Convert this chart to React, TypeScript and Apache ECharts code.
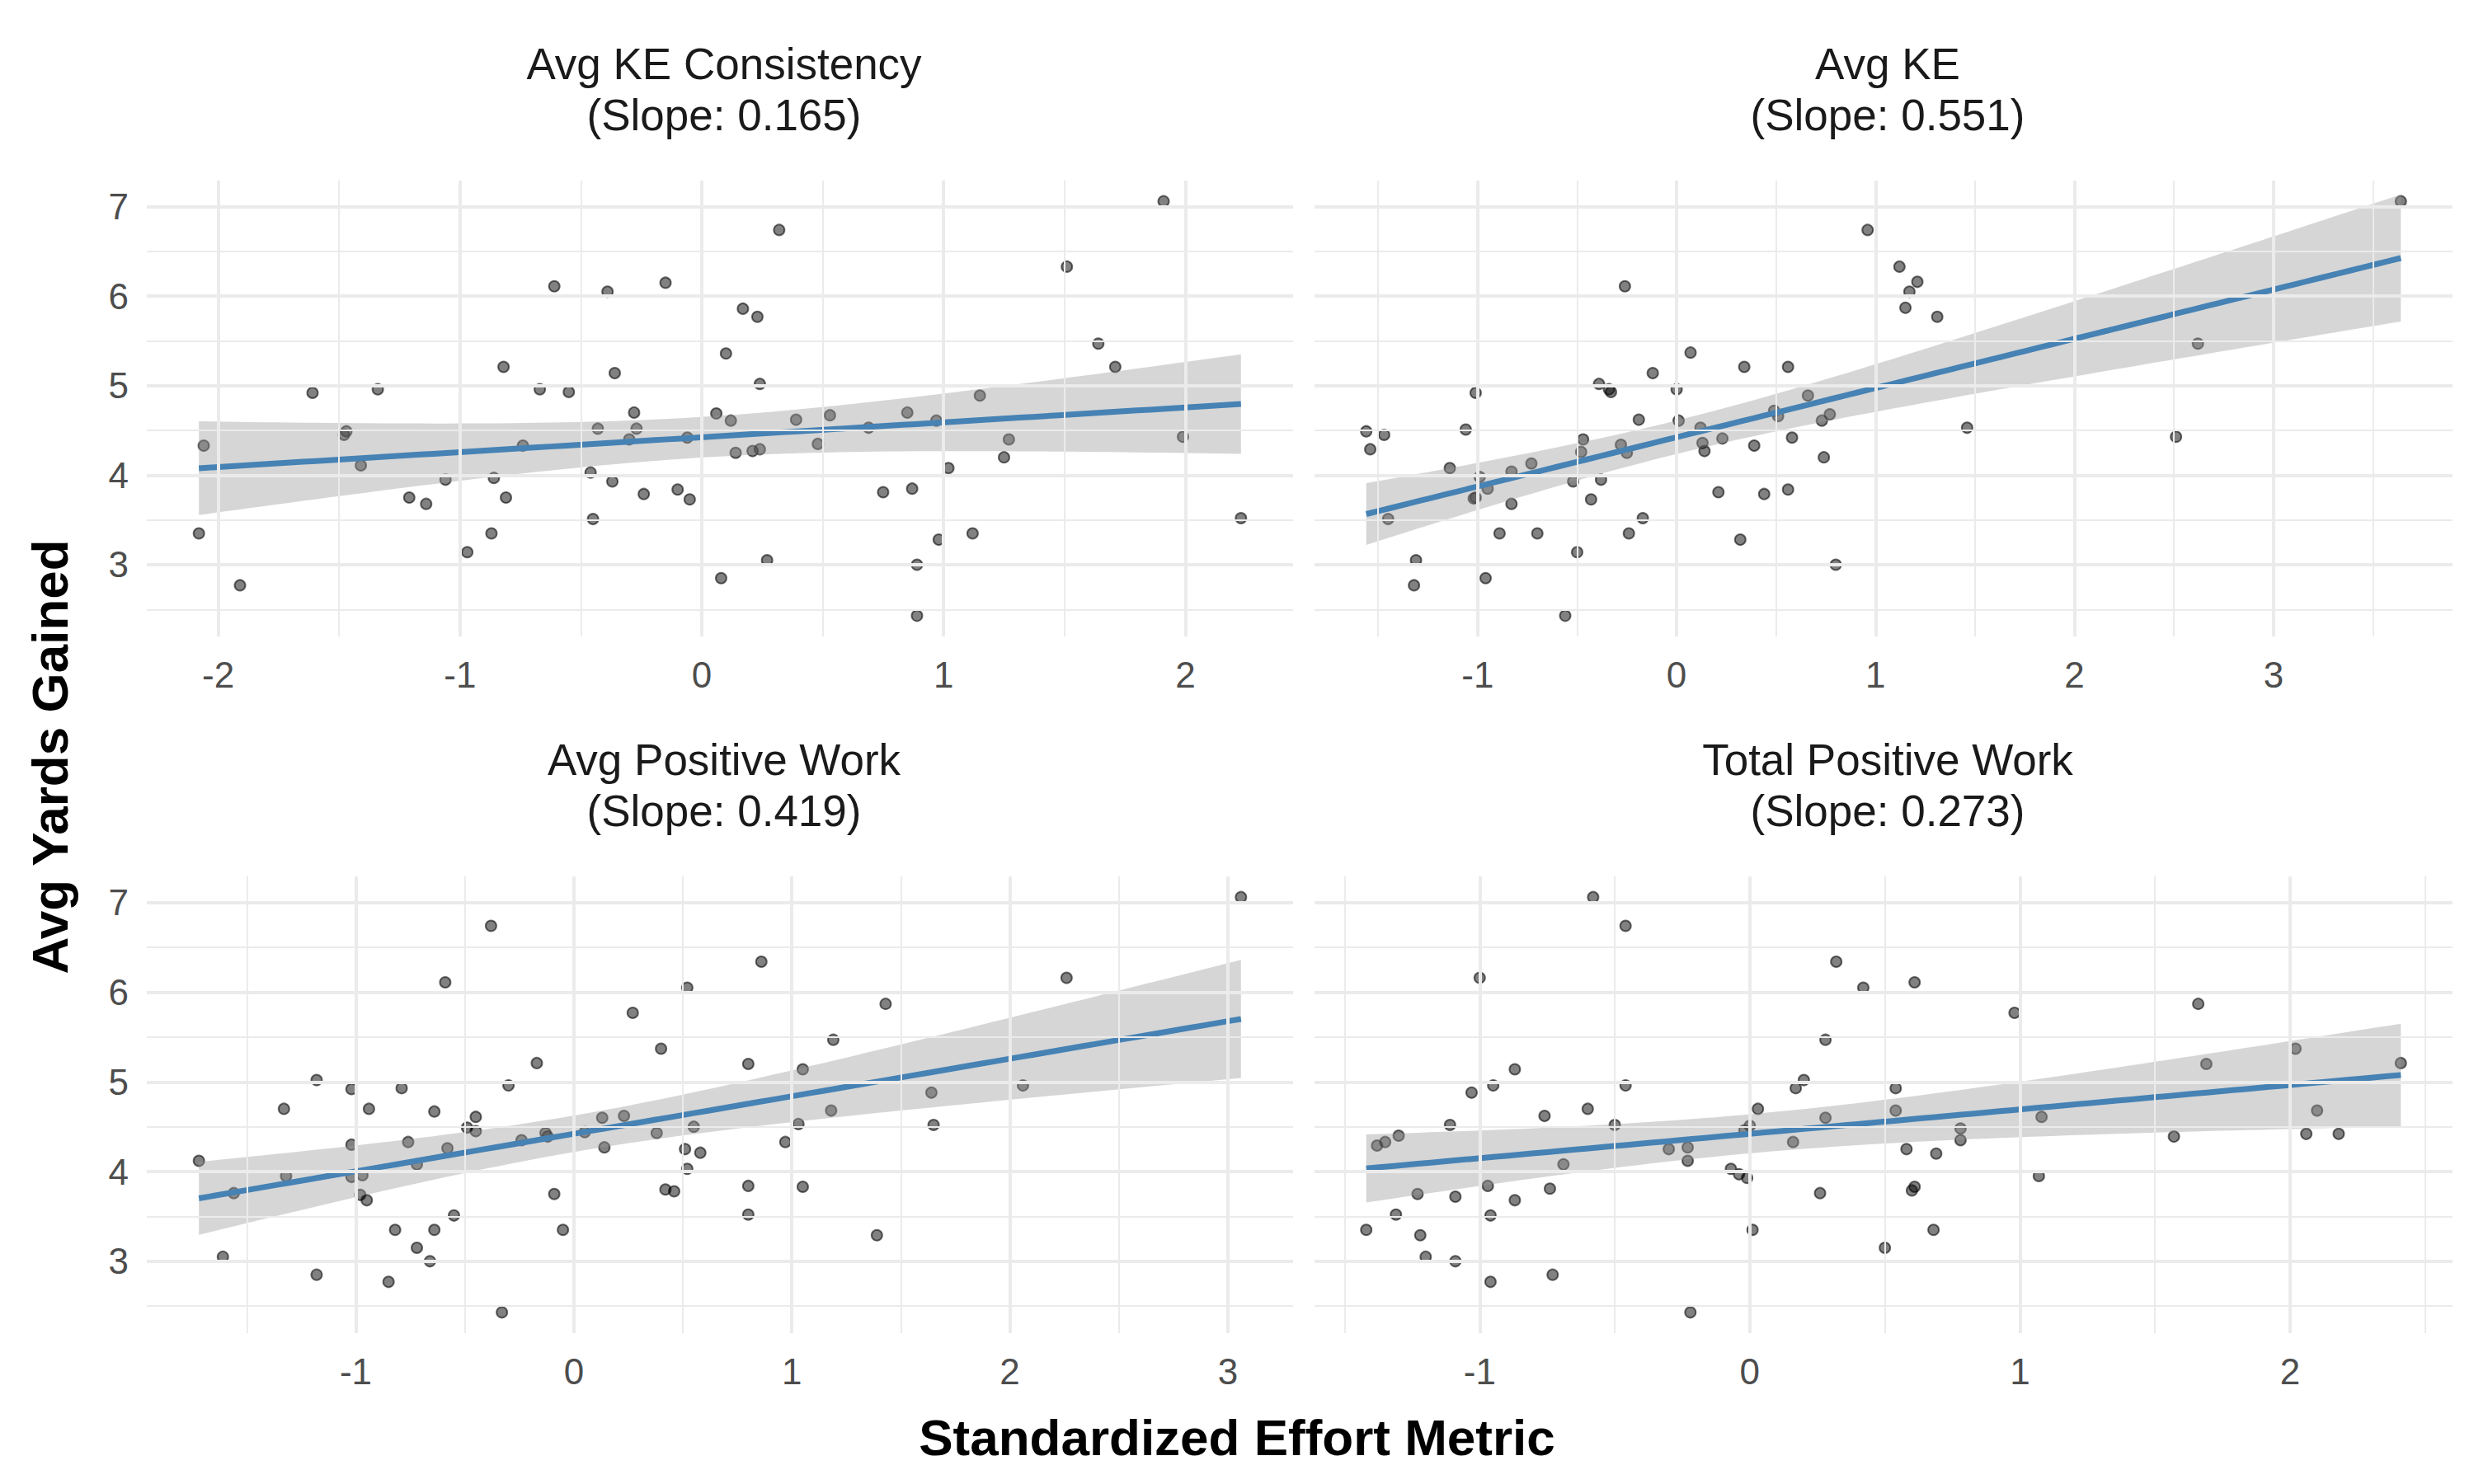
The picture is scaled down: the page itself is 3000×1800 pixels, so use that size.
import { useEffect, useRef } from 'react';
import * as echarts from 'echarts';

const panelTitles = [
  'Avg KE Consistency\n(Slope: 0.165)',
  'Avg KE\n(Slope: 0.551)',
  'Avg Positive Work\n(Slope: 0.419)',
  'Total Positive Work\n(Slope: 0.273)',
];

const keConsistency: [number, number][] = [
  [1.91, 7.06], [0.32, 6.74], [1.51, 6.33], [-0.61, 6.11], [-0.39, 6.05], [-0.15, 6.15], [0.17, 5.86],
  [0.23, 5.77], [1.64, 5.47], [0.10, 5.36], [-0.82, 5.21], [1.71, 5.21], [-0.36, 5.14], [0.24, 5.02],
  [-1.61, 4.92], [-1.34, 4.96], [-0.67, 4.96], [-0.55, 4.93], [1.15, 4.89], [-0.28, 4.70], [0.06, 4.69],
  [0.85, 4.70], [0.12, 4.61], [0.39, 4.62], [0.53, 4.67], [0.97, 4.61], [-0.43, 4.52], [-0.27, 4.52],
  [0.69, 4.53], [-1.48, 4.45], [-1.47, 4.49], [-0.30, 4.40], [-0.06, 4.42], [1.99, 4.43], [1.27, 4.40],
  [-2.06, 4.33], [-0.74, 4.33], [0.48, 4.35], [0.14, 4.25], [0.21, 4.27], [0.24, 4.29], [1.25, 4.20],
  [-1.41, 4.11], [1.02, 4.08], [-0.46, 4.03], [-1.06, 3.95], [-0.86, 3.97], [-0.37, 3.93], [-0.10, 3.84],
  [0.87, 3.85], [0.75, 3.81], [-0.24, 3.79], [-1.21, 3.75], [-0.81, 3.75], [-0.05, 3.73], [-1.14, 3.68],
  [-0.45, 3.51], [2.23, 3.52], [-2.08, 3.35], [-0.87, 3.35], [1.12, 3.35], [0.98, 3.28], [-0.97, 3.14],
  [0.27, 3.05], [0.89, 3.00], [0.08, 2.85], [-1.91, 2.77], [0.89, 2.43],
];

const avgKE: [number, number][] = [
  [3.64, 7.06], [0.96, 6.74], [1.12, 6.33], [1.21, 6.16], [1.17, 6.05], [1.15, 5.87], [1.31, 5.77],
  [-0.26, 6.11], [2.62, 5.47], [0.07, 5.37], [0.34, 5.21], [0.56, 5.21], [-0.12, 5.14], [-0.39, 5.02],
  [-0.34, 4.96], [-0.33, 4.93], [0.00, 4.96], [-1.01, 4.92], [0.66, 4.89], [-0.19, 4.62], [0.01, 4.61],
  [0.49, 4.72], [0.51, 4.66], [0.77, 4.68], [0.73, 4.61], [0.12, 4.53], [1.46, 4.53], [-1.56, 4.49],
  [-1.47, 4.45], [-1.06, 4.51], [-1.54, 4.29], [-0.47, 4.40], [0.23, 4.41], [0.58, 4.42], [2.51, 4.43],
  [-0.28, 4.34], [0.13, 4.36], [0.39, 4.33], [-0.48, 4.26], [-0.25, 4.25], [0.14, 4.27], [0.74, 4.20],
  [-1.14, 4.08], [-0.73, 4.13], [-0.83, 4.04], [-0.99, 3.98], [-0.95, 3.85], [-0.52, 3.93], [-0.38, 3.95],
  [-1.01, 3.75], [-1.02, 3.74], [-0.83, 3.68], [-0.43, 3.73], [0.21, 3.81], [0.44, 3.79], [0.56, 3.84],
  [-1.45, 3.51], [-0.17, 3.52], [-0.89, 3.35], [-0.70, 3.35], [-0.24, 3.35], [0.32, 3.28], [-0.50, 3.14],
  [-1.31, 3.05], [0.80, 3.00], [-0.96, 2.85], [-1.32, 2.77], [-0.56, 2.43],
];

const avgPositiveWork: [number, number][] = [
  [3.06, 7.06], [-0.38, 6.74], [0.86, 6.34], [-0.59, 6.11], [0.52, 6.05], [2.26, 6.16], [0.27, 5.77],
  [1.43, 5.87], [1.19, 5.47], [0.40, 5.37], [-0.17, 5.21], [0.80, 5.20], [1.05, 5.14], [-1.18, 5.02],
  [-1.02, 4.92], [-0.79, 4.93], [-0.30, 4.96], [2.06, 4.96], [1.64, 4.88], [-1.33, 4.70], [-0.94, 4.70],
  [-0.64, 4.67], [1.18, 4.68], [-0.45, 4.61], [0.13, 4.60], [0.23, 4.62], [-0.49, 4.49], [-0.45, 4.45],
  [0.55, 4.50], [1.03, 4.53], [1.65, 4.52], [0.05, 4.44], [-0.13, 4.43], [-0.12, 4.39], [0.38, 4.43],
  [-0.24, 4.35], [-0.76, 4.33], [-1.02, 4.30], [0.97, 4.33], [-0.58, 4.26], [0.14, 4.27], [0.51, 4.25],
  [0.58, 4.21], [-1.72, 4.12], [-0.72, 4.08], [0.52, 4.03], [-1.32, 3.95], [-1.02, 3.94], [-0.97, 3.96],
  [-1.56, 3.76], [-0.98, 3.74], [-0.95, 3.68], [-0.09, 3.75], [0.42, 3.80], [0.46, 3.78], [0.80, 3.84],
  [1.05, 3.83], [-0.55, 3.51], [0.80, 3.52], [-0.82, 3.35], [-0.64, 3.35], [-0.05, 3.35], [1.39, 3.29],
  [-0.72, 3.15], [-1.61, 3.05], [-0.66, 3.00], [-1.18, 2.85], [-0.85, 2.77], [-0.33, 2.43],
];

const totalPositiveWork: [number, number][] = [
  [-0.58, 7.06], [-0.46, 6.74], [0.32, 6.34], [-1.00, 6.16], [0.42, 6.05], [0.61, 6.11], [0.98, 5.77],
  [1.66, 5.87], [0.28, 5.47], [2.02, 5.37], [1.69, 5.20], [2.41, 5.21], [-0.87, 5.14], [-0.95, 4.96],
  [-1.03, 4.88], [-0.46, 4.96], [0.20, 5.02], [0.17, 4.93], [0.54, 4.93], [-0.60, 4.70], [0.03, 4.70],
  [-0.76, 4.62], [0.28, 4.60], [0.54, 4.68], [2.10, 4.68], [1.08, 4.61], [-1.11, 4.52], [-0.50, 4.52],
  [0.00, 4.51], [-0.02, 4.46], [0.78, 4.48], [0.78, 4.35], [-1.30, 4.40], [-1.35, 4.33], [-1.38, 4.29],
  [1.57, 4.39], [2.06, 4.42], [2.18, 4.42], [0.16, 4.33], [-0.30, 4.25], [-0.23, 4.27], [0.58, 4.25],
  [0.69, 4.20], [-0.69, 4.08], [-0.23, 4.12], [-0.07, 4.03], [-0.04, 3.97], [-0.01, 3.93], [1.07, 3.95],
  [-0.97, 3.84], [-0.74, 3.81], [0.61, 3.83], [0.60, 3.79], [-1.23, 3.75], [-1.09, 3.72], [-0.87, 3.68],
  [0.26, 3.76], [-1.31, 3.52], [-0.96, 3.51], [-1.42, 3.35], [-1.22, 3.29], [0.01, 3.35], [0.68, 3.35],
  [0.50, 3.15], [-1.20, 3.05], [-1.09, 3.00], [-0.96, 2.77], [-0.73, 2.85], [-0.22, 2.43],
];

const panelData = [keConsistency, avgKE, avgPositiveWork, totalPositiveWork];

const xMajor = [
  [-2, -1, 0, 1, 2],
  [-1, 0, 1, 2, 3],
  [-1, 0, 1, 2, 3],
  [-1, 0, 1, 2],
];
const xMinor = [
  [-1.5, -0.5, 0.5, 1.5],
  [-1.5, -0.5, 0.5, 1.5, 2.5, 3.5],
  [-1.5, -0.5, 0.5, 1.5, 2.5],
  [-1.5, -0.5, 0.5, 1.5, 2.5],
];
const yMajor = [3, 4, 5, 6, 7];
const yMinor = [2.5, 3.5, 4.5, 5.5, 6.5];

const grids = [
  { left: 170, top: 211, width: 1390, height: 553 },
  { left: 1586, top: 211, width: 1380, height: 553 },
  { left: 170, top: 1055, width: 1390, height: 554 },
  { left: 1586, top: 1055, width: 1380, height: 554 },
];

// linear fit with 95% confidence band
function fit(pts: [number, number][]) {
  const n = pts.length;
  const mx = pts.reduce((s, p) => s + p[0], 0) / n;
  const my = pts.reduce((s, p) => s + p[1], 0) / n;
  let sxx = 0, sxy = 0;
  pts.forEach(([x, y]) => { sxx += (x - mx) ** 2; sxy += (x - mx) * (y - my); });
  const b = sxy / sxx;
  const a = my - b * mx;
  let sse = 0;
  pts.forEach(([x, y]) => { sse += (y - a - b * x) ** 2; });
  const s = Math.sqrt(sse / (n - 2));
  const xs = pts.map((p) => p[0]);
  const lo = Math.min(...xs), hi = Math.max(...xs);
  const line: number[][] = [];
  const band: number[][] = [];
  for (let i = 0; i <= 80; i++) {
    const x = lo + ((hi - lo) * i) / 80;
    const yh = a + b * x;
    const se = s * Math.sqrt(1 / n + (x - mx) ** 2 / sxx);
    line.push([x, yh]);
    band.push([x, yh - 1.998 * se, yh + 1.998 * se]);
  }
  return { line, band, lo, hi };
}

const App = () => {
  const ref = useRef<HTMLDivElement>(null);

  useEffect(() => {
    if (!ref.current) return;
    const chart = echarts.init(ref.current, null, { renderer: 'svg' });
    const font = 'Liberation Sans, Arial, sans-serif';

    const xAxis: any[] = [];
    const yAxis: any[] = [];
    const series: any[] = [];
    const title: any[] = [];

    panelData.forEach((pts, i) => {
      const f = fit(pts);
      const span = f.hi - f.lo;
      const g = grids[i];
      title.push({
        text: panelTitles[i],
        left: g.left + g.width / 2,
        top: g.top - 178,
        textAlign: 'center',
        textStyle: { fontFamily: font, fontSize: 53, fontWeight: 'normal', color: '#1a1a1a', lineHeight: 62 },
      });
      xAxis.push({
        type: 'value', gridIndex: i,
        min: f.lo - span * 0.05, max: f.hi + span * 0.05,
        minInterval: 1, maxInterval: 1,
        axisLine: { show: false }, axisTick: { show: false }, splitLine: { show: false },
        axisLabel: { showMinLabel: false, showMaxLabel: false, fontFamily: font, fontSize: 44, color: '#4d4d4d', margin: 24 },
      });
      yAxis.push({
        type: 'value', gridIndex: i,
        min: 2.43 - 0.2315, max: 7.06 + 0.2315,
        minInterval: 1, maxInterval: 1,
        axisLine: { show: false }, axisTick: { show: false }, splitLine: { show: false },
        axisLabel: { show: i % 2 === 0, showMinLabel: false, showMaxLabel: false, fontFamily: font, fontSize: 44, color: '#4d4d4d', margin: 22 },
      });
      const gl = (v: number, dim: 'xAxis' | 'yAxis', w: number) => ({ [dim]: v, lineStyle: { color: '#ebebeb', width: w, type: 'solid' } });
      series.push({
        type: 'scatter', xAxisIndex: i, yAxisIndex: i, data: [], silent: true, z: 0,
        markLine: {
          silent: true, symbol: 'none', label: { show: false }, animation: false,
          data: [
            ...xMinor[i].map((v) => gl(v, 'xAxis', 2)),
            ...yMinor.map((v) => gl(v, 'yAxis', 2)),
            ...xMajor[i].map((v) => gl(v, 'xAxis', 4)),
            ...yMajor.map((v) => gl(v, 'yAxis', 4)),
          ],
        },
      });
      series.push({
        type: 'scatter', xAxisIndex: i, yAxisIndex: i, data: pts, z: 2,
        symbolSize: 13,
        itemStyle: { color: 'rgba(0,0,0,0.62)', borderColor: 'rgba(0,0,0,0.7)', borderWidth: 2 },
      });
      series.push({
        type: 'custom', xAxisIndex: i, yAxisIndex: i, data: [0], z: 3, silent: true,
        renderItem: (_: any, api: any) => {
          const upper = f.band.map((b) => api.coord([b[0], b[2]]));
          const lower = f.band.map((b) => api.coord([b[0], b[1]])).reverse();
          return { type: 'polygon', shape: { points: [...upper, ...lower] }, style: { fill: 'rgba(153,153,153,0.4)' } };
        },
      });
      series.push({
        type: 'line', xAxisIndex: i, yAxisIndex: i, data: f.line, z: 4, showSymbol: false, silent: true,
        lineStyle: { color: '#4682B4', width: 7 },
      });
    });

    chart.setOption({
      animation: false,
      backgroundColor: '#ffffff',
      title,
      grid: grids,
      xAxis,
      yAxis,
      series,
      graphic: [
        {
          type: 'text', left: 'center', top: 1704,
          style: { text: 'Standardized Effort Metric', font: `bold 62px ${font}`, fill: '#000' },
        },
        {
          type: 'text', x: 52, y: 910, rotation: Math.PI / 2,
          style: { text: 'Avg Yards Gained', font: `bold 62px ${font}`, fill: '#000', align: 'center', verticalAlign: 'middle' },
        },
      ],
    });
    return () => chart.dispose();
  }, []);

  return <div ref={ref} style={{ width: 2984, height: 1800 }} />;
};

export default App;
